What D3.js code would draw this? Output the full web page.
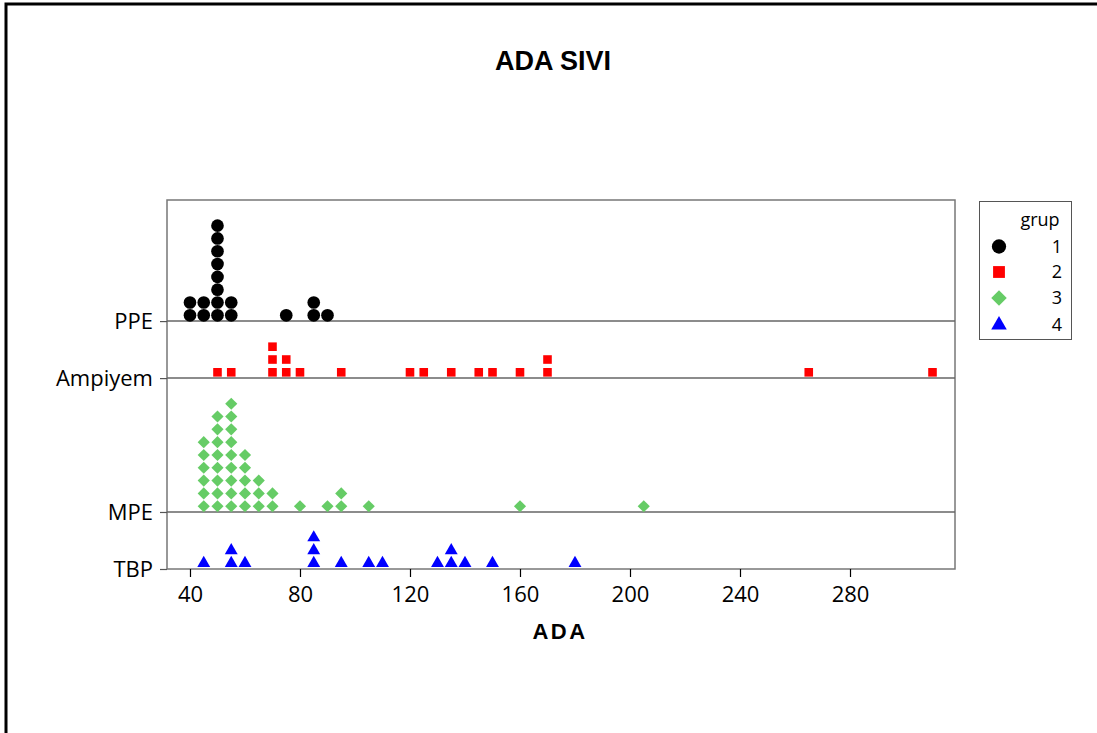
<!DOCTYPE html>
<html>
<head>
<meta charset="utf-8">
<script src="https://cdn.jsdelivr.net/npm/d3@7"></script>
<style>
  html, body { margin: 0; padding: 0; background: #fff; }
  svg { display: block; }
</style>
</head>
<body>
<svg id="chart" width="1097" height="733"></svg>
<script>
// Group names, bottom row first
const groups = ["TBP", "MPE", "Ampiyem", "PPE"];
const groupCodes = ["4", "3", "2", "1"];

// ADA values per group (one entry per patient)
const tbpValues = [45, 55, 55, 60, 85, 85, 85, 95, 105, 110, 130, 135, 135, 140, 150, 180];
const mpeValues = [45, 45, 45, 45, 45, 45,
                   50, 50, 50, 50, 50, 50, 50, 50,
                   55, 55, 55, 55, 55, 55, 55, 55, 55,
                   60, 60, 60, 60, 60,
                   65, 65, 65,
                   70, 70,
                   80, 90, 95, 95, 105, 160, 205];
const ampiyemValues = [50, 55, 70, 70, 70, 75, 75, 80, 95, 120, 125, 135, 145, 150, 160, 170, 170, 265, 310];
const ppeValues = [40, 40, 45, 45, 50, 50, 50, 50, 50, 50, 50, 50, 55, 55, 75, 85, 85, 90];

const xTicks = [40, 80, 120, 160, 200, 240, 280];

const seriesValues = [tbpValues, mpeValues, ampiyemValues, ppeValues];
const colors = ["#0000ff", "#66cc66", "#ff0000", "#000000"];

const svg = d3.select("#chart");
const plot = { left: 167, right: 955, top: 200, bottom: 569 };

// Outer frame
svg.append("path")
  .attr("d", "M6,740 L6,4 L1100,4")
  .attr("fill", "none")
  .attr("stroke", "#000")
  .attr("stroke-width", 3);

// Title
svg.append("text")
  .attr("x", 553).attr("y", 70)
  .attr("text-anchor", "middle")
  .attr("font-family", "Liberation Sans, Arial, sans-serif")
  .attr("font-weight", "bold")
  .attr("font-size", 27)
  .text("ADA SIVI");

// Stack each group's values into dot-plot levels
const stacks = seriesValues.map(vals => {
  const counter = new Map();
  return vals.map(v => {
    const k = counter.get(v) || 0;
    counter.set(v, k + 1);
    return { value: v, level: k };
  });
});
const maxLevels = stacks.map(s => d3.max(s, d => d.level + 1));
const pad = 1.45;
const baselines = [];
let acc = 0;
maxLevels.forEach(m => { baselines.push(acc); acc += m + pad; });
const totalUnits = acc;

const x = d3.scaleLinear().domain([31.64, 318.18]).range([plot.left, plot.right]);
const y = d3.scaleLinear().domain([0, totalUnits]).range([plot.bottom, plot.top]);

// Plot frame
svg.append("rect")
  .attr("x", plot.left).attr("y", plot.top)
  .attr("width", plot.right - plot.left)
  .attr("height", plot.bottom - plot.top)
  .attr("fill", "none")
  .attr("stroke", "#777")
  .attr("stroke-width", 1.5);

// Row separator lines
svg.append("g").selectAll("line")
  .data(baselines.slice(1))
  .join("line")
  .attr("x1", plot.left).attr("x2", plot.right)
  .attr("y1", d => y(d)).attr("y2", d => y(d))
  .attr("stroke", "#666")
  .attr("stroke-width", 1.5);

// X axis
const xAxis = svg.append("g")
  .attr("transform", `translate(0,${plot.bottom})`)
  .call(d3.axisBottom(x).tickValues(xTicks).tickSize(8).tickPadding(9).tickFormat(d3.format("d")));
xAxis.select(".domain").remove();
xAxis.selectAll(".tick line").attr("stroke", "#000").attr("stroke-width", 1.2);
xAxis.selectAll(".tick text")
  .attr("font-family", "Open Sans, Noto Sans, sans-serif")
  .attr("font-size", 22)
  .attr("fill", "#000");

svg.append("text")
  .attr("x", 560).attr("y", 639)
  .attr("text-anchor", "middle")
  .attr("font-family", "Liberation Sans, Arial, sans-serif")
  .attr("font-weight", "bold")
  .attr("font-size", 22)
  .attr("letter-spacing", 2.5)
  .text("ADA");

// Y axis: one tick per group baseline
const yAxis = svg.append("g")
  .attr("transform", `translate(${plot.left},0)`)
  .call(d3.axisLeft(y).tickValues(baselines).tickSize(7).tickPadding(7).tickFormat((d, i) => groups[i]));
yAxis.select(".domain").remove();
yAxis.selectAll(".tick line").attr("stroke", "#555").attr("stroke-width", 1.2);
yAxis.selectAll(".tick text")
  .attr("font-family", "Open Sans, Noto Sans, sans-serif")
  .attr("font-size", 22)
  .attr("fill", "#000");

// Marker shapes
const symbolDefs = [
  { type: d3.symbolTriangle, size: 72, rotate: 0, legendSize: 105 },
  { type: d3.symbolSquare, size: 74, rotate: 45, legendSize: 120 },
  { type: d3.symbolSquare, size: 74, rotate: 0, legendSize: 140 },
  { type: d3.symbolCircle, size: 126, rotate: 0, legendSize: 160 }
];
const offset = 0.45;

stacks.forEach((pts, gi) => {
  const def = symbolDefs[gi];
  const sym = d3.symbol().type(def.type).size(def.size);
  svg.append("g").selectAll("path")
    .data(pts)
    .join("path")
    .attr("d", sym)
    .attr("transform", d => `translate(${x(d.value)},${y(baselines[gi] + offset + d.level)}) rotate(${def.rotate})`)
    .attr("fill", colors[gi]);
});

// Legend
const legend = svg.append("g");
legend.append("rect")
  .attr("x", 979.5).attr("y", 201.5)
  .attr("width", 92).attr("height", 138)
  .attr("fill", "#fff")
  .attr("stroke", "#555")
  .attr("stroke-width", 1);
legend.append("text")
  .attr("x", 1040).attr("y", 226)
  .attr("text-anchor", "middle")
  .attr("font-family", "Open Sans, Noto Sans, sans-serif")
  .attr("font-size", 18)
  .text("grup");
const legendOrder = [3, 2, 1, 0];
const legendY = [246.5, 272, 298, 325];
legendOrder.forEach((gi, row) => {
  const def = symbolDefs[gi];
  legend.append("path")
    .attr("d", d3.symbol().type(def.type).size(def.legendSize)())
    .attr("transform", `translate(999,${legendY[row]}) rotate(${def.rotate})`)
    .attr("fill", colors[gi]);
  legend.append("text")
    .attr("x", 1057).attr("y", legendY[row])
    .attr("dy", "0.36em")
    .attr("text-anchor", "middle")
    .attr("font-family", "Open Sans, Noto Sans, sans-serif")
    .attr("font-size", 18)
    .text(groupCodes[gi]);
});
</script>
</body>
</html>
